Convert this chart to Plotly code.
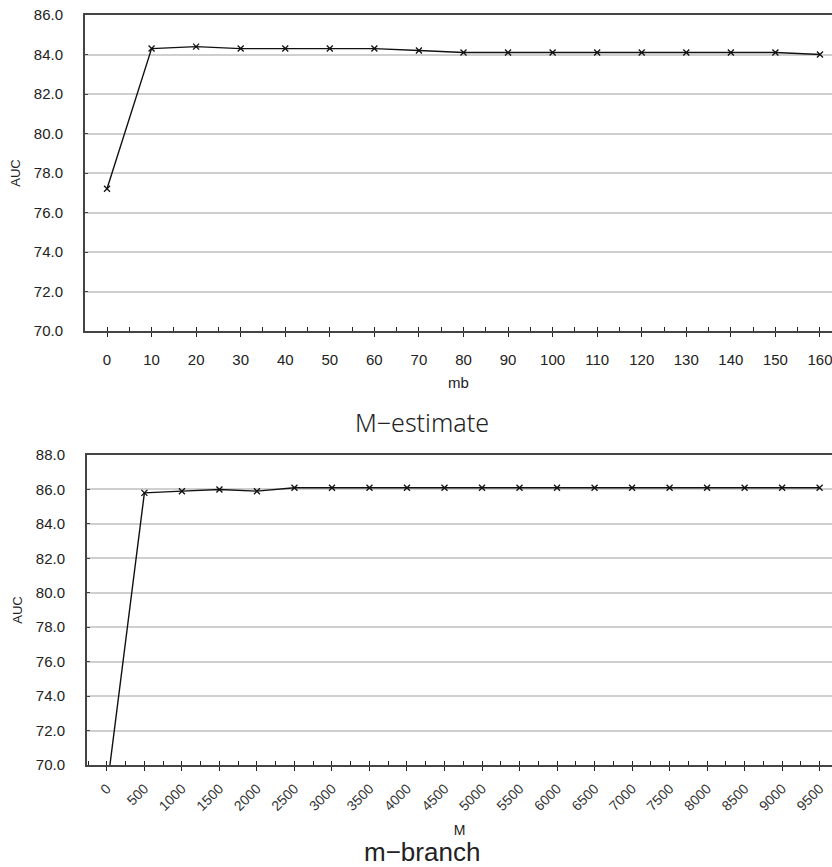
import plotly.graph_objects as go

# ---- data ----
mb_labels = ["0", "10", "20", "30", "40", "50", "60", "70", "80", "90",
             "100", "110", "120", "130", "140", "150", "160"]
auc_m_estimate = [77.2, 84.3, 84.4, 84.3, 84.3, 84.3, 84.3, 84.2, 84.1, 84.1,
                  84.1, 84.1, 84.1, 84.1, 84.1, 84.1, 84.0]

m_labels = ["0", "500", "1000", "1500", "2000", "2500", "3000", "3500", "4000",
            "4500", "5000", "5500", "6000", "6500", "7000", "7500", "8000",
            "8500", "9000", "9500"]
auc_m_branch = [68.6, 85.8, 85.9, 86.0, 85.9, 86.1, 86.1, 86.1, 86.1, 86.1,
                86.1, 86.1, 86.1, 86.1, 86.1, 86.1, 86.1, 86.1, 86.1, 86.1]

y1_ticks = [70, 72, 74, 76, 78, 80, 82, 84, 86]
y2_ticks = [70, 72, 74, 76, 78, 80, 82, 84, 86, 88]

W, H = 832, 867
SANS = "Liberation Sans, Arial, sans-serif"

x1 = list(range(len(mb_labels)))
x2 = list(range(len(m_labels)))

fig = go.Figure()
fig.add_trace(go.Scatter(
    x=x1, y=auc_m_estimate, mode="lines+markers", xaxis="x", yaxis="y",
    line=dict(color="#111111", width=1.4),
    marker=dict(symbol="x-thin", size=6, line=dict(color="#111111", width=1.3)),
    showlegend=False))
fig.add_trace(go.Scatter(
    x=x2, y=auc_m_branch, mode="lines+markers", xaxis="x2", yaxis="y2",
    line=dict(color="#111111", width=1.4),
    marker=dict(symbol="x-thin", size=6, line=dict(color="#111111", width=1.3)),
    showlegend=False))

axis_common = dict(showgrid=False, zeroline=False, showline=True,
                   linecolor="#444444", linewidth=2, automargin=False,
                   ticklabeloverflow="allow")

fig.update_layout(
    width=W, height=H,
    margin=dict(l=0, r=0, t=0, b=0, autoexpand=False),
    paper_bgcolor="white", plot_bgcolor="white",
    xaxis=dict(
        **axis_common, domain=[85 / W, 1], anchor="y",
        range=[-0.494, 16.27], tickmode="array", tickvals=x1, ticktext=mb_labels,
        ticks="outside", ticklen=4, tickwidth=1, tickcolor="#222222",
        minor=dict(dtick=0.5, tick0=0.5, ticks="inside", ticklen=4,
                   tickwidth=1, tickcolor="#222222", showgrid=False),
        mirror=True, ticklabelstandoff=10,
        tickfont=dict(family=SANS, size=15, color="#222222"),
        title=dict(text="mb", standoff=10,
                   font=dict(family=SANS, size=15, color="#222222")),
    ),
    yaxis=dict(
        showline=True, linecolor="#444444", linewidth=2, zeroline=False,
        automargin=False,
        domain=[1 - 331 / H, 1 - 15 / H], anchor="x",
        range=[70, 86], tickmode="array", tickvals=y1_ticks,
        tickformat=".1f", showgrid=True, gridcolor="#cfcfcf", gridwidth=1.5,
        ticks="inside", ticklen=3, tickcolor="#444444", ticklabelstandoff=17,
        tickfont=dict(family=SANS, size=15, color="#222222"),
        title=dict(text="AUC", standoff=10,
                   font=dict(family=SANS, size=13, color="#222222")),
    ),
    xaxis2=dict(
        **axis_common, domain=[87 / W, 1], anchor="y2",
        range=[-0.53, 19.33], tickmode="array", tickvals=x2, ticktext=m_labels,
        ticks="outside", ticklen=4, tickwidth=1, tickcolor="#222222",
        minor=dict(dtick=0.5, tick0=0.5, ticks="inside", ticklen=4,
                   tickwidth=1, tickcolor="#222222", showgrid=False),
        mirror=True, tickangle=-45, ticklabelstandoff=4,
        tickfont=dict(family=SANS, size=14, color="#333333"),
        title=dict(text="M", standoff=12,
                   font=dict(family=SANS, size=14, color="#222222")),
    ),
    yaxis2=dict(
        showline=True, linecolor="#444444", linewidth=2, zeroline=False,
        automargin=False,
        domain=[1 - 765 / H, 1 - 455 / H], anchor="x2",
        range=[70, 88], tickmode="array", tickvals=y2_ticks,
        tickformat=".1f", showgrid=True, gridcolor="#cfcfcf", gridwidth=1.5,
        ticks="inside", ticklen=3, tickcolor="#444444", ticklabelstandoff=17,
        tickfont=dict(family=SANS, size=15, color="#222222"),
        title=dict(text="AUC", standoff=10,
                   font=dict(family=SANS, size=13, color="#222222")),
    ),
    annotations=[
        dict(text="M\u2212estimate", x=422 / W, y=1 - 422 / H, xref="paper", yref="paper",
             xanchor="center", yanchor="middle", showarrow=False,
             font=dict(family="Noto Sans, sans-serif", size=25, weight=300,
                       color="#222222")),
        dict(text="m\u2212branch", x=422 / W, y=1 - 852 / H, xref="paper", yref="paper",
             xanchor="center", yanchor="middle", showarrow=False,
             font=dict(family=SANS, size=26, color="#222222")),
    ],
)

fig.write_html(
    "out.html",
    config={"displayModeBar": False},
    post_script="document.body.style.margin='0';document.body.style.overflow='hidden';",
)
